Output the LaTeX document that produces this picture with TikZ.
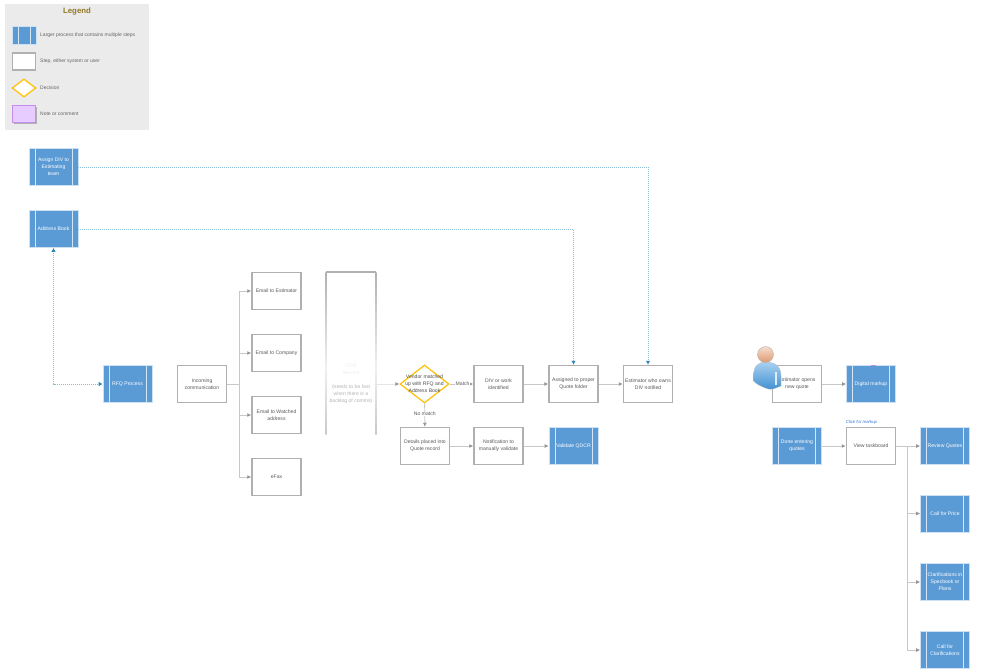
\documentclass[tikz,border=0pt]{standalone}
\usepackage{fontspec}
\setmainfont{Liberation Sans}
\usetikzlibrary{arrows.meta,shapes.geometric}
\definecolor{procblue}{HTML}{5B9BD5}
\definecolor{stepgray}{HTML}{B0B0B0}
\definecolor{linkgray}{HTML}{C8C8C8}
\definecolor{dotblue}{HTML}{2E86B8}
\definecolor{decgold}{HTML}{FFC000}
\definecolor{notefill}{HTML}{E6CCFF}
\definecolor{noteline}{HTML}{C58CF0}
\definecolor{linkblue}{HTML}{2E75D6}
\definecolor{bodylight}{HTML}{A9D1F0}
\definecolor{bodydark}{HTML}{3F8FD2}
\definecolor{headlight}{HTML}{F6DCCB}
\definecolor{headdark}{HTML}{DE9A72}
\tikzset{
  base/.style={minimum width=49pt, minimum height=37pt, inner sep=1pt, align=center, font=\fontsize{5.1}{7}\selectfont},
  procbox/.style={base, fill=procblue, text=white, draw=white!70!procblue, line width=.6pt,
    path picture={\draw[white!75!procblue, line width=.8pt]
      ([xshift=6pt]path picture bounding box.south west) -- ([xshift=6pt]path picture bounding box.north west)
      ([xshift=-6pt]path picture bounding box.south east) -- ([xshift=-6pt]path picture bounding box.north east);}},
  stepbox/.style={base, draw=stepgray, line width=1.5pt, fill=white, text=black!65},
  decbox/.style={diamond, aspect=1.3, draw=decgold, line width=1.2pt, fill=white, inner sep=0pt, minimum width=49pt, minimum height=38pt},
  link/.style={draw=linkgray, line width=.9pt, -{Latex[length=4pt,width=4pt,color=stepgray!85!black]}},
  dotlink/.style={draw=dotblue!55, line width=.8pt, dash pattern=on 1pt off 1pt, -{Latex[length=4pt,width=4.5pt,color=dotblue]}},
  legendtext/.style={anchor=west, text=black!60, font=\fontsize{5}{6}\selectfont, inner sep=0pt},
  linklabel/.style={fill=white, inner sep=.3pt, text=black!65, font=\fontsize{5.1}{6}\selectfont}
}
\begin{document}
\begin{tikzpicture}[x=1pt, y=-1pt]
\useasboundingbox (0,0) rectangle (1000,669);

% legend
\fill[black!8] (5,4) rectangle (149,130);
\node[text=decgold!50!black!85, font=\fontsize{7.8}{8}\selectfont\bfseries] (legendtitle) at (77,12) {Legend};
\node[procbox, minimum width=24pt, minimum height=18pt] (legendproc) at (24,35) {};
\node[stepbox, minimum width=23pt, minimum height=17pt] (legendstep) at (24,61.500) {};
\node[decbox, minimum width=24pt, minimum height=18pt] (legenddec) at (24,88) {};
\node[base, minimum width=23pt, minimum height=17pt, fill=black!30] (legendshadow) at (25.5,115.5) {};
\node[base, minimum width=23pt, minimum height=17pt, fill=notefill, draw=noteline, line width=1.2pt] (legendnote) at (24,114) {};
\node[legendtext] (legendproctext) at (40,35) {Larger process that contains multiple steps};
\node[legendtext] (legendsteptext) at (40,61.500) {Step, either system or user};
\node[legendtext] (legenddectext) at (40,87.500) {Decision};
\node[legendtext] (legendnotetext) at (40,114) {Note or comment};

% left column
\node[procbox] (assign) at (53.5,167) {Assign DIV to\\Estimating\\team};
\node[procbox] (address) at (53.5,229) {Address Book};
\node[procbox] (rfq) at (127.5,384) {RFQ Process};
\node[stepbox] (incoming) at (202,384) {Incoming\\communication};

% emails
\node[stepbox] (emailest) at (276.5,291) {Email to Estimator};
\node[stepbox] (emailco) at (276.5,353) {Email to Company};
\node[stepbox] (emailwatch) at (276.5,415) {Email to Watched\\address};
\node[stepbox] (efax) at (276.5,477) {eFax};

% faded service column
\node[base, minimum height=162pt] (ocr) at (351,353) {};
\node[base, minimum height=10pt, text=black!8] (ocrname) at (351,369) {OCR\\Service};
\node[base, minimum height=10pt, text=black!30] (ocrnote) at (351,394) {(needs to be fast\\when there is a\\backlog of comms)};
\draw[stepgray, line width=1.5pt] (ocr.north west) -- (ocr.north east);
\shade[top color=stepgray, bottom color=black!6] (325.3,272) rectangle (326.7,368);
\shade[top color=black!6, bottom color=linkgray] (325.3,368) rectangle (326.7,434);
\shade[top color=stepgray, bottom color=black!6] (375.3,272) rectangle (376.7,368);
\shade[top color=black!6, bottom color=linkgray] (375.3,368) rectangle (376.7,434);

% middle row
\node[stepbox] (divwork) at (498.5,384) {DIV or work\\identified};
\node[stepbox] (assigned) at (573.5,384) {Assigned to proper\\Quote folder};
\node[stepbox] (owner) at (648,384) {Estimator who owns\\DIV notified};
\node[stepbox] (details) at (425,446) {Details placed into\\Quote record};
\node[stepbox] (notify) at (498.5,446) {Notification to\\manually validate};
\node[procbox] (validate) at (573.5,446) {Validate QDCR};
\node[decbox] (vendor) at (424.5,384) {};
\node[text=black!70, align=center, font=\fontsize{5.1}{7}\selectfont] (vendortext) at (424.5,384) {Vendor matched\\up with RFQ and\\Address Book};

% right part
\node[stepbox] (opens) at (797,384) {Estimator opens\\new quote};
\node[procbox] (markup) at (871,384) {Digital markup};
\node[procbox] (done) at (797,446) {Done entering\\quotes};
\node[stepbox] (board) at (871,446) {View taskboard};
\node[text=linkblue, inner sep=0pt, font=\fontsize{4.3}{5}\selectfont\itshape] (clicknote) at (861.5,422) {Click for markup};
\node[procbox] (review) at (945,446) {Review Quotes};
\node[procbox] (price) at (945,513.5) {Call for Price};
\node[procbox] (clarspec) at (945,582) {Clarifications in\\Specbook or\\Plans};
\node[procbox] (clarcall) at (945,650) {Call for\\Clarifications};
\draw[noteline, line width=.8pt] (870.5,365) -- (875.5,365);

% user figure
\draw[black!25, top color=bodylight, bottom color=bodydark, line width=.3pt] (753.5,376) .. controls (753.5,366) and (758,362) .. (766,362) .. controls (775,362) and (781,366) .. (781,376) -- (781,386) .. controls (776,388) and (772,390) .. (768,389) .. controls (762,387) and (756,384) .. (753.5,381) -- cycle;
\draw[white!60!bodylight, line width=1.2pt] (776,372) -- (776,385);
\draw[black!30, top color=headlight, bottom color=headdark, line width=.4pt] (765.5,354.500) circle (8pt);

% connectors
\coordinate (incomingbus) at (239,384);
\draw[link] (incoming) -- (incomingbus) |- (emailest);
\draw[link] (incomingbus) |- (emailco);
\draw[link] (incomingbus) |- (emailwatch);
\draw[link] (incomingbus) |- (efax);
\draw[link, draw=black!10] (ocr.east |- vendor) -- (vendor);
\draw[link] (vendor) -- node[linklabel, pos=.55] {Match} (divwork);
\draw[link] (vendor) -- node[linklabel, pos=.45] {No match} (details);
\draw[link] (divwork) -- (assigned);
\draw[link] (assigned) -- (owner);
\draw[link] (details) -- (notify);
\draw[link] (notify) -- (validate);
\draw[link] (opens) -- (markup);
\draw[link] (done) -- (board);
\coordinate (boardbus) at (907,446);
\draw[link] (board) -- (review);
\draw[link] (boardbus) |- (price);
\draw[link] (boardbus) |- (clarspec);
\draw[link] (boardbus) |- (clarcall);

% dotted links
\draw[dotlink] (assign) -| (owner);
\draw[dotlink] (address) -| (assigned);
\draw[dotlink, {Latex[length=4pt,width=4.5pt,color=dotblue]}-{Latex[length=4pt,width=4.5pt,color=dotblue]}] (address) |- (rfq);
\end{tikzpicture}
\end{document}
